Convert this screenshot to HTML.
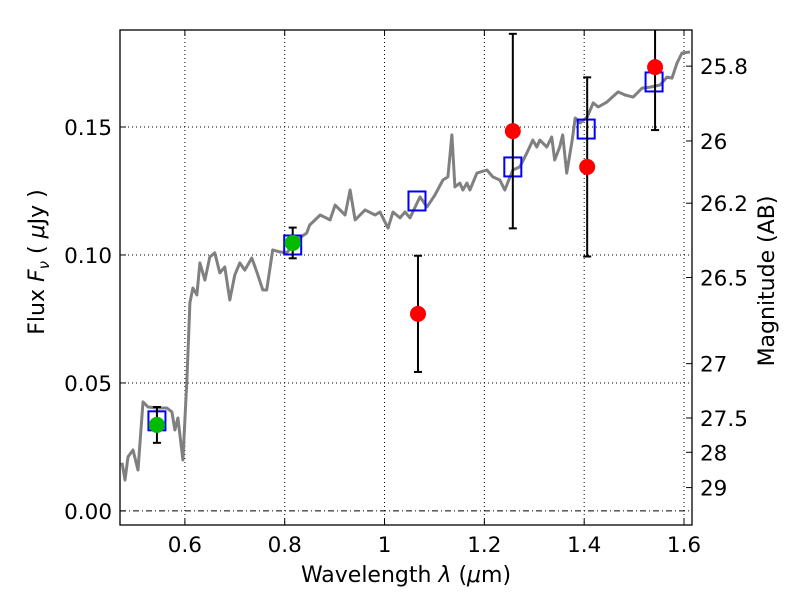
<!DOCTYPE html>
<html><head><meta charset="utf-8"><style>
body{margin:0;background:#fff;}
svg text{font-family:"DejaVu Sans","Liberation Sans",sans-serif;fill:#000;}
</style></head><body>
<svg id="chart" width="800" height="600" xmlns="http://www.w3.org/2000/svg">
<g id="grid"></g>
<g id="series"></g>
<g id="axes"></g>
</svg>
<script>
const specLam=[0.474,0.480,0.486,0.496,0.506,0.516,0.526,0.544,0.564,0.574,0.580,0.586,0.596,0.604,0.610,0.616,0.624,0.630,0.640,0.650,0.660,0.670,0.680,0.690,0.700,0.710,0.720,0.734,0.744,0.756,0.764,0.776,0.790,0.804,0.824,0.844,0.850,0.871,0.891,0.901,0.921,0.931,0.941,0.961,0.981,0.991,1.007,1.017,1.031,1.041,1.051,1.071,1.085,1.101,1.117,1.127,1.135,1.141,1.151,1.157,1.165,1.171,1.185,1.205,1.217,1.231,1.241,1.257,1.271,1.285,1.297,1.305,1.311,1.325,1.335,1.341,1.351,1.357,1.365,1.376,1.382,1.392,1.406,1.418,1.428,1.446,1.468,1.482,1.498,1.516,1.532,1.552,1.566,1.576,1.586,1.596,1.612];
const specFlux=[0.0188,0.0121,0.0211,0.0238,0.0160,0.0426,0.0406,0.0402,0.0402,0.0387,0.0316,0.0363,0.0199,0.0512,0.0813,0.0871,0.0844,0.0969,0.0902,0.0992,0.1008,0.0930,0.0953,0.0824,0.0922,0.0969,0.0941,0.0988,0.0934,0.0863,0.0863,0.1020,0.1012,0.1008,0.1059,0.1086,0.1117,0.1156,0.1137,0.1195,0.1156,0.1254,0.1137,0.1176,0.1156,0.1168,0.1105,0.1168,0.1145,0.1168,0.1145,0.1227,0.1188,0.1234,0.1293,0.1305,0.1469,0.1266,0.1281,0.1254,0.1281,0.1254,0.1320,0.1332,0.1305,0.1293,0.1254,0.1332,0.1344,0.1398,0.1449,0.1422,0.1449,0.1422,0.1461,0.1371,0.1422,0.1469,0.1320,0.1449,0.1535,0.1516,0.1539,0.1594,0.1578,0.1598,0.1637,0.1625,0.1617,0.1652,0.1656,0.1664,0.1695,0.1691,0.1750,0.1789,0.1793];
const modelLam=[0.544,0.816,1.065,1.257,1.404,1.540];
const modelFlux=[0.0352,0.1039,0.1211,0.1344,0.1492,0.1676];
const greenLam=[0.544,0.816];
const greenFlux=[0.0336,0.1047];
const greenErr=[0.0070,0.0060];
const redLam=[1.067,1.257,1.406,1.542];
const redFlux=[0.0770,0.1484,0.1344,0.1734];
const redErr=[0.0227,0.0380,0.0350,0.0246];
const xTicks=[0.6,0.8,1.0,1.2,1.4,1.6];
const xTickLabels=["0.6","0.8","1","1.2","1.4","1.6"];
const yTicks=[0,0.05,0.10,0.15];
const yTickLabels=["0.00","0.05","0.10","0.15"];
const magTicks=[25.8,26,26.2,26.5,27,27.5,28,29];
const magTickLabels=["25.8","26","26.2","26.5","27","27.5","28","29"];

const L=120,R=692,T=30,B=525;
const xMin=0.47,xMax=1.616,yMin=-0.0055,yMax=0.1879;
const X=v=>L+(v-xMin)/(xMax-xMin)*(R-L);
const Y=v=>B-(v-yMin)/(yMax-yMin)*(B-T);
const NS="http://www.w3.org/2000/svg";
function mk(parent,tag,attrs){const e=document.createElementNS(NS,tag);for(const k in attrs)e.setAttribute(k,attrs[k]);parent.appendChild(e);return e;}
const grid=document.getElementById('grid'),ser=document.getElementById('series'),ax=document.getElementById('axes');

const defs=mk(document.getElementById('chart'),'defs',{});
const cp=mk(defs,'clipPath',{id:'clip'});mk(cp,'rect',{x:L,y:T,width:R-L,height:B-T});
ser.setAttribute('clip-path','url(#clip)');

xTicks.forEach((t,i)=>{
  const g=mk(grid,'line',{x1:X(t),x2:X(t),y1:T,y2:B,stroke:'#000','stroke-width':1,'stroke-dasharray':'1,3'});
  
  
  mk(ax,'line',{x1:X(t),x2:X(t),y1:B,y2:B-6,stroke:'#000'});
  mk(ax,'line',{x1:X(t),x2:X(t),y1:T,y2:T+6,stroke:'#000'});
  const tx=mk(ax,'text',{x:X(t),y:B+27,'font-size':21.5,'text-anchor':'middle'});
  tx.textContent=xTickLabels[i];
  
  
});
yTicks.forEach((t,i)=>{
  const g=mk(grid,'line',{x1:L,x2:R,y1:Y(t),y2:Y(t),stroke:'#000','stroke-width':1,'stroke-dasharray':t===0?'6,3,1,3':'1,3'});
  
  
  mk(ax,'line',{x1:L,x2:L+6,y1:Y(t),y2:Y(t),stroke:'#000'});
  const tx=mk(ax,'text',{x:L-8,y:Y(t)+8,'font-size':21.5,'text-anchor':'end'});
  tx.textContent=yTickLabels[i];
  
  
});
magTicks.forEach((m,i)=>{
  const f=Math.pow(10,(23.9-m)/2.5);
  const y=Y(f);
  mk(ax,'line',{x1:R,x2:R-6,y1:y,y2:y,stroke:'#000'});
  const tx=mk(ax,'text',{x:R+8,y:y+8,'font-size':21.5,'text-anchor':'start'});
  tx.textContent=magTickLabels[i];
  
  
});

const pts=specLam.map((l,i)=>X(l).toFixed(1)+','+Y(specFlux[i]).toFixed(1)).join(' ');
const pl=mk(ser,'polyline',{points:pts,fill:'none',stroke:'#808080','stroke-width':3,'stroke-linejoin':'round'});



function errbar(l,f,e){
  const x=X(l);
  mk(ser,'line',{x1:x,x2:x,y1:Y(f-e),y2:Y(f+e),stroke:'#000','stroke-width':2});
  mk(ser,'line',{x1:x-4,x2:x+4,y1:Y(f-e),y2:Y(f-e),stroke:'#000','stroke-width':2});
  mk(ser,'line',{x1:x-4,x2:x+4,y1:Y(f+e),y2:Y(f+e),stroke:'#000','stroke-width':2});
}
modelLam.forEach((l,i)=>{
  const r=mk(ser,'rect',{x:X(l)-8.5,y:Y(modelFlux[i])-9.5,width:17,height:19,fill:'none',stroke:'#0000ff','stroke-width':2});
  
  
});
greenLam.forEach((l,i)=>{
  errbar(l,greenFlux[i],greenErr[i]);
  const c=mk(ser,'circle',{cx:X(l),cy:Y(greenFlux[i]),r:8,fill:'#00bb00'});
  
  
});
redLam.forEach((l,i)=>{
  errbar(l,redFlux[i],redErr[i]);
  const c=mk(ser,'circle',{cx:X(l),cy:Y(redFlux[i]),r:8,fill:'#ff0000'});
  
  
});

const fr=mk(ax,'rect',{x:L,y:T,width:R-L,height:B-T,fill:'none',stroke:'#000','stroke-width':1.3});


</script>
<svg style="position:absolute;left:0;top:0" width="800" height="600" xmlns="http://www.w3.org/2000/svg">
<text x="406" y="582" font-size="22" text-anchor="middle">Wavelength  <tspan font-style="italic">λ</tspan> (<tspan font-style="italic">μ</tspan>m)</text>
<text transform="translate(44,262) rotate(-90)" font-size="22" text-anchor="middle">Flux  <tspan font-style="italic">F</tspan><tspan font-style="italic" font-size="15" dy="5">ν</tspan><tspan dy="-5">  (  </tspan><tspan font-style="italic">μ</tspan>Jy )</text>
<text transform="translate(774,281) rotate(-90)" font-size="22" text-anchor="middle">Magnitude (AB)</text>
</svg>
</body></html>
